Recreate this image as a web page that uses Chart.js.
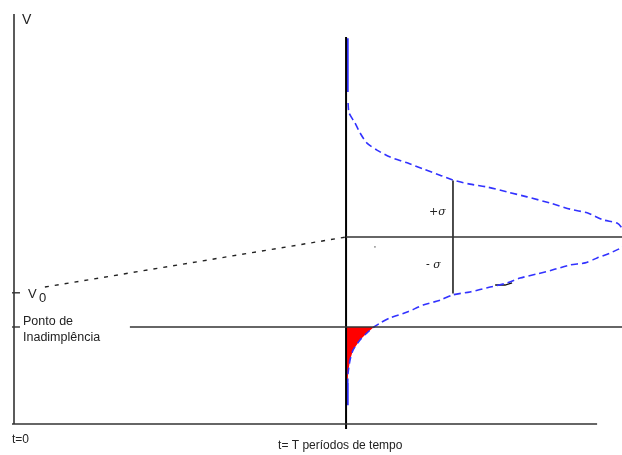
<!DOCTYPE html>
<html>
<head>
<meta charset="utf-8">
<script src="https://cdn.jsdelivr.net/npm/chart.js@4/dist/chart.umd.min.js"></script>
<style>
  html, body { margin: 0; padding: 0; background: #fff; }
  canvas { display: block; }
</style>
</head>
<body>
<canvas id="merton" width="622" height="455"></canvas>
<script>
// eixos: tempo (T = horizonte) e valor dos ativos V
var T = 10;
var tMax = 18.31;
var vMax = 100;

var v0 = 32.0;          // valor inicial dos ativos
var meanV = 45.6;       // valor esperado em T
var sigmaV = 13.8;      // desvio padrao em T
var defaultV = 23.66;   // ponto de inadimplencia

// linha tracejada de V0 ate o valor esperado
var driftLine = [[0.93, 33.4], [T, meanV]];

// distribuicao de V em T (deitada sobre o eixo t = T)
var tailTop = [[10.05, 94.1], [10.05, 81.0]];
var tailBottom = [[10.05, 10.0], [10.05, 4.6]];
var curve = [
  [10.06, 78.3], [10.09, 75.9], [10.27, 73.4], [10.42, 71.0], [10.63, 68.5],
  [10.93, 66.8], [11.33, 65.1], [11.84, 63.7], [12.32, 62.2], [12.83, 60.7],
  [13.22, 59.5], [13.73, 58.5], [14.25, 57.8], [14.85, 56.6], [15.45, 55.4],
  [16.14, 53.9], [16.75, 52.4], [17.26, 51.5], [17.74, 49.8], [18.16, 49.0],
  [18.31, 47.8], [18.45, 45.6], [18.31, 43.2], [17.95, 41.7], [17.56, 40.5],
  [17.20, 39.3], [16.75, 38.8], [16.23, 37.6], [15.75, 36.6], [15.24, 35.6],
  [14.85, 34.4], [14.34, 33.4], [13.73, 32.2], [13.22, 31.5], [12.83, 30.2],
  [12.32, 29.0], [11.84, 27.3], [11.33, 25.9], [11.02, 24.6], [10.84, 23.66],
  [10.63, 22.2], [10.42, 20.5], [10.21, 18.0], [10.12, 15.6], [10.06, 12.4],
  [10.05, 10.0]
];

// pequenos tracos soltos do desenho
var strayStroke = [[14.49, 33.9], [14.79, 33.9], [15.0, 34.4]];
var strayDot = [[10.87, 43.2]];

function pts(arr) {
  return arr.map(function (p) { return { x: p[0], y: p[1] }; });
}

function line(arr, color, width, dash, clip) {
  return {
    data: pts(arr),
    showLine: true,
    borderColor: color,
    borderWidth: width,
    borderDash: dash || [],
    pointRadius: 0,
    tension: 0,
    clip: clip === undefined ? false : clip
  };
}

var axisColor = '#333';
var blue = 'rgb(50,50,255)';

var datasets = [
  line([[0, vMax], [0, 0]], axisColor, 1.6),
  line([[-0.06, 0], [17.56, 0]], axisColor, 1.6),
  line([[-0.06, v0], [0.18, v0]], axisColor, 1.4),
  line([[-0.06, defaultV], [0.18, defaultV]], axisColor, 1.4),
  line([[3.49, defaultV], [tMax, defaultV]], axisColor, 1.4),
  line([[T, meanV], [tMax, meanV]], axisColor, 1.4),
  line(driftLine, '#222', 1.4, [4, 6]),
  line([[13.22, meanV - sigmaV], [13.22, meanV + sigmaV]], '#111', 1.5),
  line([[T, 94.4], [T, -1.2]], '#000', 2),
  line(tailTop, blue, 2),
  line(tailBottom, blue, 2),
  Object.assign(line(curve, blue, 1.6, [7, 4], true), { tension: 0.25 }),
  line(strayStroke, '#111', 1.3),
  { data: pts(strayDot), pointRadius: 0.8, pointBackgroundColor: '#777', pointBorderWidth: 0 }
];

// area abaixo do ponto de inadimplencia (probabilidade de default)
var defaultArea = {
  id: 'defaultArea',
  beforeDatasetsDraw: function (chart) {
    var xs = chart.scales.x, ys = chart.scales.y, ctx = chart.ctx;
    var tail = curve.filter(function (p) { return p[1] <= defaultV; });
    ctx.save();
    ctx.beginPath();
    ctx.moveTo(xs.getPixelForValue(T), ys.getPixelForValue(defaultV));
    tail.forEach(function (p) {
      ctx.lineTo(xs.getPixelForValue(p[0]), ys.getPixelForValue(p[1]));
    });
    ctx.lineTo(xs.getPixelForValue(T), ys.getPixelForValue(tail[tail.length - 1][1]));
    ctx.closePath();
    ctx.fillStyle = '#ff0000';
    ctx.fill();
    ctx.restore();
  }
};

// rotulos do diagrama
var labels = {
  id: 'labels',
  afterDatasetsDraw: function (chart) {
    var xs = chart.scales.x, ys = chart.scales.y, ctx = chart.ctx;
    var x0 = xs.getPixelForValue(0);
    var xT = xs.getPixelForValue(T);
    var xS = xs.getPixelForValue(13.22);
    var yMean = ys.getPixelForValue(meanV);
    var yDef = ys.getPixelForValue(defaultV);
    var yV0 = ys.getPixelForValue(v0);
    var yBase = ys.getPixelForValue(0);
    ctx.save();
    ctx.fillStyle = '#222';
    ctx.textBaseline = 'alphabetic';
    ctx.font = '14px "Liberation Sans", Arial, sans-serif';
    ctx.fillText('V', x0 + 8, ys.getPixelForValue(vMax) + 10);
    ctx.font = '13px "Liberation Sans", Arial, sans-serif';
    ctx.fillText('V', x0 + 14, yV0 + 5);
    ctx.fillText('0', x0 + 25, yV0 + 9);
    ctx.font = '12.5px "Liberation Sans", Arial, sans-serif';
    ctx.fillText('Ponto de', x0 + 9, yDef - 2);
    ctx.fillText('Inadimplência', x0 + 9, yDef + 14);
    ctx.font = '12px "Liberation Sans", Arial, sans-serif';
    ctx.fillText('t=0', x0 - 2, yBase + 19);
    ctx.fillText('t= T períodos de tempo', xT - 68, yBase + 25);
    ctx.font = 'italic 11px "DejaVu Serif", serif';
    ctx.fillText('+σ', xS - 24, yMean - 22);
    ctx.fillText('- σ', xS - 27, yMean + 31);
    ctx.restore();
  }
};

new Chart(document.getElementById('merton'), {
  type: 'scatter',
  data: { datasets: datasets },
  options: {
    responsive: false,
    devicePixelRatio: 1,
    animation: false,
    layout: { autoPadding: false, padding: { left: 14, top: 14, right: 0, bottom: 31 } },
    plugins: { legend: { display: false }, tooltip: { enabled: false } },
    scales: {
      x: { type: 'linear', min: 0, max: tMax, display: false },
      y: { type: 'linear', min: 0, max: vMax, display: false }
    }
  },
  plugins: [defaultArea, labels]
});
</script>
</body>
</html>
